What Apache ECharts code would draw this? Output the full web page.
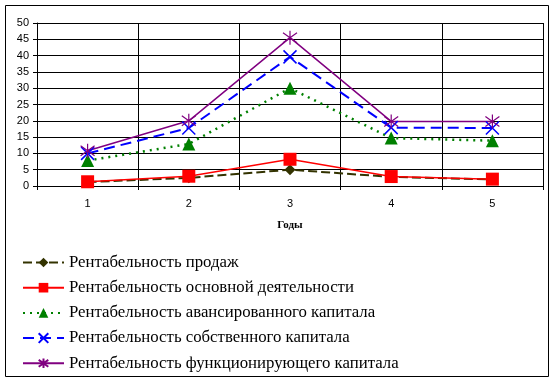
<!DOCTYPE html>
<html><head><meta charset="utf-8">
<script src="https://cdn.jsdelivr.net/npm/echarts@6/dist/echarts.min.js"></script>
<style>html,body{margin:0;padding:0;background:#fff}#c{width:556px;height:381px}</style>
</head><body><div id="c"></div>
<script>
const years = ['1','2','3','4','5'];
const yTicks = {min:0, max:50, interval:5};
const names = [
  'Рентабельность продаж',
  'Рентабельность основной деятельности',
  'Рентабельность авансированного капитала',
  'Рентабельность собственного капитала',
  'Рентабельность функционирующего капитала'
];
const sales = [1.2, 2.5, 5.0, 2.8, 2.0];
const mainAct = [1.3, 3.0, 8.2, 2.9, 2.1];
const advanced = [7.8, 12.9, 30.0, 14.7, 13.9];
const own = [10.0, 17.8, 39.6, 17.9, 17.8];
const functioning = [10.8, 20.0, 45.5, 19.8, 19.8];

const X = 'path://M0,0L10,10M10,0L0,10';
const STAR = 'path://M0,0L10,10M10,0L0,10M5,-2L5,12';

const chart = echarts.init(document.getElementById('c'), null, {renderer:'canvas'});
chart.setOption({
  animation:false,
  backgroundColor:'#fff',
  graphic:[{type:'rect', shape:{x:5.5,y:5.5,width:543,height:371}, style:{fill:'none',stroke:'#000',lineWidth:1}, z:-1}],
  grid:{left:37, top:23, right:13, bottom:195},
  xAxis:{type:'category', data:years, boundaryGap:true,
    axisLine:{lineStyle:{color:'#000'}},
    axisTick:{show:true, inside:false, length:4, lineStyle:{color:'#000'}},
    axisLabel:{color:'#000', fontFamily:'Liberation Sans', fontSize:11, margin:12},
    splitLine:{show:true, lineStyle:{color:'#000', width:1}},
    name:'Годы', nameLocation:'middle', nameGap:34,
    nameTextStyle:{fontFamily:'Liberation Serif', fontWeight:'bold', fontSize:11, color:'#000'}
  },
  yAxis:{type:'value', min:yTicks.min, max:yTicks.max, interval:yTicks.interval,
    axisLine:{show:true, lineStyle:{color:'#000'}},
    axisTick:{show:true, length:4, lineStyle:{color:'#000'}},
    axisLabel:{color:'#000', fontFamily:'Liberation Sans', fontSize:11, margin:8},
    splitLine:{show:true, lineStyle:{color:'#000', width:1}}
  },
  legend:{orient:'vertical', left:17, top:249, itemGap:8.2, itemWidth:41, itemHeight:12,
    textStyle:{fontFamily:'Liberation Serif', fontSize:16.8, color:'#000'},
    data:names},
  series:[
    {name:names[0], type:'line', data:sales, symbol:'diamond', symbolSize:11,
      lineStyle:{color:'#333300', width:2, type:[9,4]}, itemStyle:{color:'#333300'}},
    {name:names[1], type:'line', data:mainAct, symbol:'rect', symbolSize:13,
      lineStyle:{color:'#ff0000', width:1.5}, itemStyle:{color:'#ff0000'}},
    {name:names[2], type:'line', data:advanced, symbol:'triangle', symbolSize:13,
      lineStyle:{color:'#008000', width:2.5, type:[2,5]}, itemStyle:{color:'#008000'}},
    {name:names[3], type:'line', data:own, symbol:X, symbolSize:13,
      lineStyle:{color:'#0000ff', width:2, type:[11,6]}, itemStyle:{color:'transparent', borderColor:'#0000ff', borderWidth:1.5}},
    {name:names[4], type:'line', data:functioning, symbol:STAR, symbolSize:14,
      lineStyle:{color:'#800080', width:1.5}, itemStyle:{color:'transparent', borderColor:'#800080', borderWidth:1.2}}
  ]
});
</script></body></html>
